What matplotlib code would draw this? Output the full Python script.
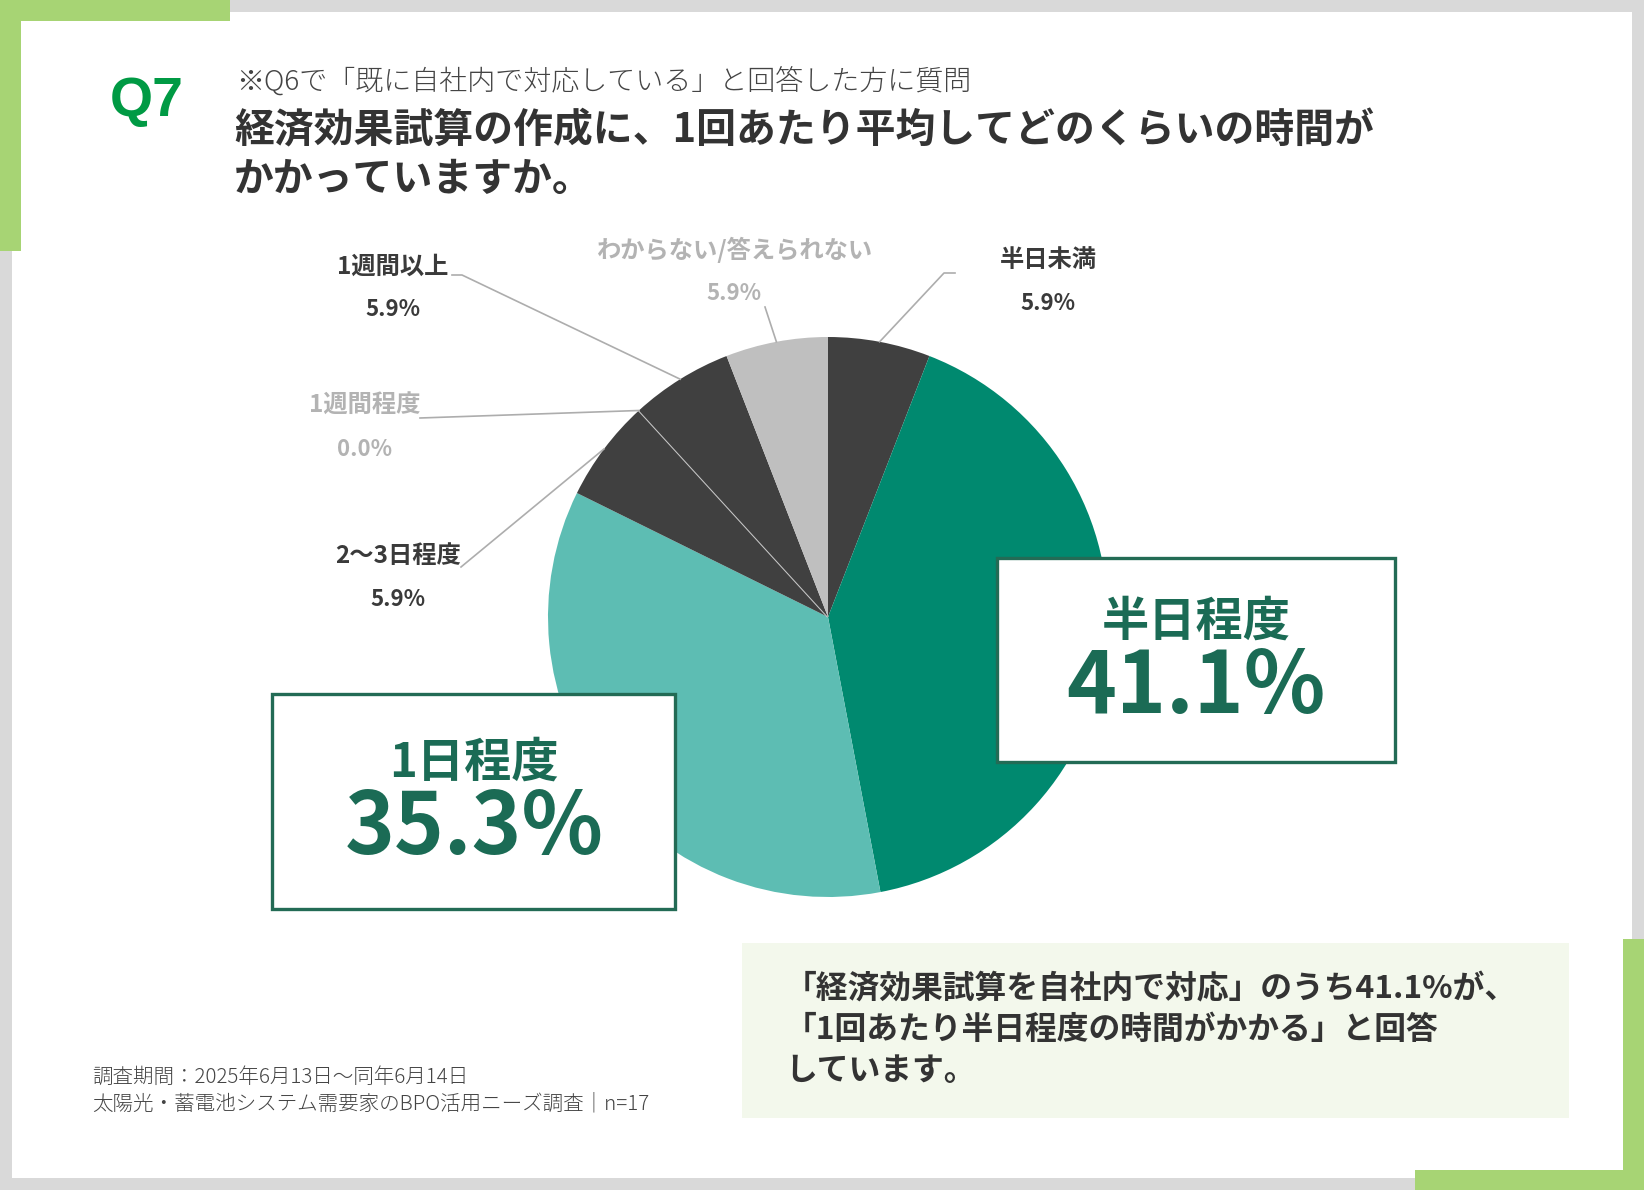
import numpy as np
import matplotlib
matplotlib.use('Agg')
import matplotlib.pyplot as plt
from matplotlib.patches import Rectangle

plt.rcParams['font.family'] = ['Noto Sans CJK JP', 'DejaVu Sans']

# -------------------------------
# Data
# -------------------------------
categories = ['半日未満', '半日程度', '1日程度', '2〜3日程度',
              '1週間程度', '1週間以上', 'わからない/答えられない']
shares = [5.9, 41.1, 35.3, 5.9, 0.0, 5.9, 5.9]

question_no = 'Q7'
subtitle = '※Q6で「既に自社内で対応している」と回答した方に質問'
title_lines = ['経済効果試算の作成に、1回あたり平均してどのくらいの時間が',
               'かかっていますか。']
callout_lines = ['「経済効果試算を自社内で対応」のうち41.1%が、',
                 '「1回あたり半日程度の時間がかかる」と回答',
                 'しています。']
footnote_lines = ['調査期間：2025年6月13日～同年6月14日',
                  '太陽光・蓄電池システム需要家のBPO活用ニーズ調査｜n=17']

# -------------------------------
# Styles
# -------------------------------
slice_colors = ['#404040', '#00896f', '#5dbdb3', '#404040',
                '#404040', '#404040', '#bfbfbf']
DARK = '#3a3a3a'
LIGHT = '#b3b3b3'
GREEN_TXT = '#1b6b55'
FRAME_GREEN = '#a7d474'

W, H = 1644, 1190
cx, cy, r = 828, 617, 280

fig = plt.figure(figsize=(W / 100, H / 100), dpi=100)
fig.patch.set_facecolor('#d9d9d9')

# background frame (bottom layer)
bg = fig.add_axes([0, 0, 1, 1], zorder=0)
bg.set_xlim(0, W)
bg.set_ylim(H, 0)
bg.axis('off')
bg.add_patch(Rectangle((12, 12), 1620, 1166, fc='white', ec='none'))
for x, y, w, h in [(0, 0, 230, 21), (0, 0, 21, 251),
                   (1623, 939, 21, 251), (1415, 1170, 229, 20)]:
    bg.add_patch(Rectangle((x, y), w, h, fc=FRAME_GREEN, ec='none'))

# -------------------------------
# Pie (middle layer)
# -------------------------------
pax = fig.add_axes([(cx - r) / W, 1 - (cy + r) / H, 2 * r / W, 2 * r / H], zorder=1)
wedges, _ = pax.pie(shares, colors=slice_colors, startangle=90, counterclock=False,
                    radius=1, wedgeprops=dict(linewidth=0))
for wdg, v in zip(wedges, shares):
    if v == 0:
        wdg.set_edgecolor('#c8c8c8')
        wdg.set_linewidth(1.5)
pax.set_xlim(-1, 1)
pax.set_ylim(-1, 1)
pax.set_aspect('equal')
pax.axis('off')

# overlay for texts, leaders and boxes (top layer)
ov = fig.add_axes([0, 0, 1, 1], zorder=2)
ov.set_xlim(0, W)
ov.set_ylim(H, 0)
ov.axis('off')
ov.patch.set_alpha(0)

# header
ov.text(110, 102, question_no, fontsize=40, fontweight='bold', color='#009a44',
        family=['Liberation Sans', 'DejaVu Sans'], va='center', ha='left')
ov.text(236, 82, subtitle, fontsize=20.2, color='#444444', va='center', ha='left',
        fontweight='light')
ov.text(234, 131, title_lines[0], fontsize=28.7, fontweight='bold', color='#333333',
        va='center', ha='left')
ov.text(234, 180, title_lines[1], fontsize=28.7, fontweight='bold', color='#333333',
        va='center', ha='left')

# rim points at slice midpoints (pixel coords)
cum = np.cumsum([0] + shares) / 100.0
mid = (cum[:-1] + cum[1:]) / 2 * 2 * np.pi
rim_x = cx + r * np.sin(mid)
rim_y = cy - r * np.cos(mid)

# small-slice labels: index, label xy, pct xy, color, leader start points
small = [
    (0, (1048, 260), (1048, 303), DARK, [(955, 273), (944, 273)]),
    (6, (734, 250), (734, 293), LIGHT, [(765, 307)]),
    (5, (393, 267), (393, 309), DARK, [(452, 275), (462, 275)]),
    (4, (365, 406), (365, 449), LIGHT, [(420, 418)]),
    (3, (398, 556), (398, 599), DARK, [(461, 567)]),
]
for i, lxy, pxy, col, pts in small:
    ov.text(*lxy, categories[i], fontsize=17.5, fontweight='bold', color=col,
            ha='center', va='center')
    ov.text(*pxy, f'{shares[i]:.1f}%', fontsize=16, fontweight='bold', color=col,
            ha='center', va='center')
    xs = [p[0] for p in pts] + [rim_x[i]]
    ys = [p[1] for p in pts] + [rim_y[i]]
    ov.plot(xs, ys, color='#adadad', lw=1.2)

# big-slice boxes
for i, (bx, by, bw, bh), (tx, ty1, ty2) in [
        (1, (997, 558, 398, 204), (1196, 622, 688)),
        (2, (272, 694, 403, 215), (474, 763, 829))]:
    ov.add_patch(Rectangle((bx, by), bw, bh, fc='white', ec='#236b55', lw=2.4))
    ov.text(tx, ty1, categories[i], fontsize=34, fontweight='bold', color=GREEN_TXT,
            ha='center', va='center')
    ov.text(tx, ty2, f'{shares[i]:.1f}%', fontsize=61, fontweight='bold',
            color=GREEN_TXT, ha='center', va='center')

# callout
ov.add_patch(Rectangle((742, 943), 827, 175, fc='#f3f8ec', ec='none'))
for k, line in enumerate(callout_lines):
    ov.text(785, 989 + 41 * k, line, fontsize=22.9, fontweight='bold', color='#333333',
            ha='left', va='center')

# footnote
for k, line in enumerate(footnote_lines):
    ov.text(92, 1077 + 27 * k, line, fontsize=14.8, color='#444444',
            ha='left', va='center', fontweight='light')

fig.savefig('out.png', dpi=100, facecolor=fig.get_facecolor())
